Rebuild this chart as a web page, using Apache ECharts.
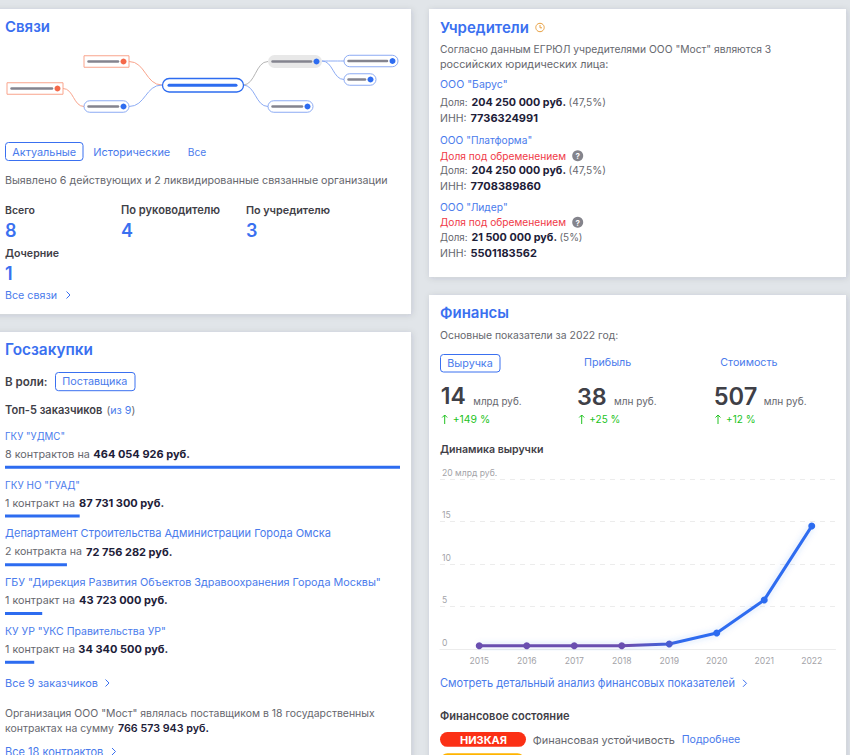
<!DOCTYPE html>
<html><head><meta charset="utf-8">
<style>html,body{margin:0;padding:0;background:#e1e5e9;overflow:hidden}#c{width:850px;height:755px}</style>
<script src="https://cdn.jsdelivr.net/npm/echarts@6/dist/echarts.min.js"></script>
</head><body><div id="c"></div>
<script>
// ---- data ----
const years = ['2015','2016','2017','2018','2019','2020','2021','2022'];
const revenue = [0.42,0.42,0.42,0.42,0.62,1.92,5.8,14.47];
const revenueTicks = [0,5,10,15,20];
const customers = ['ГКУ "УДМС"','ГКУ НО "ГУАД"','Департамент Строительства Администрации Города Омска','ГБУ "Дирекция Развития Объектов Здравоохранения Города Москвы"','КУ УР "УКС Правительства УР"'];
const contractCounts = ['8 контрактов на','1 контракт на','2 контракта на','1 контракт на','1 контракт на'];
const contractAmounts = [464054926,87731300,72756282,43723000,34340500];
const amountLabels = ['464 054 926 руб.','87 731 300 руб.','72 756 282 руб.','43 723 000 руб.','34 340 500 руб.'];

// ---- style ----
const BLUE='#3a70f0', LINK='#4a7bec', DARK='#3f4047', NAVY='#1d2038', GREY='#66676e', FF='Inter, "Noto Sans", sans-serif';
const g=[];
const mctx=document.createElement('canvas').getContext('2d');
const T=(x,y,text,o={})=>{
  const p=Object.assign({text,fontFamily:FF,fontSize:11,fontWeight:400,fill:GREY,verticalAlign:'middle',align:'left'},o);
  if(p.w){mctx.font=p.fontWeight+' '+p.fontSize+'px Inter';p.fontSize=+(p.fontSize*p.w/mctx.measureText(text).width).toFixed(2);delete p.w;}
  g.push({type:'text',x,y,z:1,silent:true,style:p});
};
const card=(x,y,w,h)=>g.push({type:'rect',z:0,silent:true,shape:{x,y,width:w,height:h},style:{fill:'#fff',shadowBlur:6,shadowColor:'rgba(40,50,70,.14)',shadowOffsetX:1,shadowOffsetY:1}});
const title=(x,y,t,w)=>T(x,y,t,{fontSize:15,fontWeight:600,fill:BLUE,w});
const btn=(x,y,w,h,t,tw)=>{g.push({type:'rect',z:1,silent:true,shape:{x:x+.5,y:y+.5,width:w,height:h,r:3},style:{fill:'#fff',stroke:BLUE,lineWidth:1}});T(x+7.3,y+h/2+.5,t,{fill:LINK,w:tw});};
const chev=(x,y)=>g.push({type:'polyline',z:1,silent:true,shape:{points:[[x,y-3.5],[x+3.5,y],[x,y+3.5]]},style:{fill:'none',stroke:BLUE,lineWidth:1}});
const link=(x,y,t,w,cx)=>{T(x,y,t,{fill:LINK,w});chev(cx,y);};

card(-10,9,421,305); card(-10,332,421,440); card(429,9,417,268); card(429,295,417,470);

// ---- Связи: schematic map ----
const RED='#f9a48c', REDDOT='#f4694a', NB='#2d6cf0', LB='#8cabf4', BAR='#84848f';
const curve=(x1,y1,x2,y2,c)=>{const m=(x1+x2)/2;g.push({type:'bezierCurve',z:1,silent:true,shape:{x1,y1,x2,y2,cpx1:m,cpy1:y1,cpx2:m,cpy2:y2},style:{fill:'none',stroke:c,lineWidth:1}});};
curve(129,61.5,162,85,RED); curve(63,88.5,84,106.5,RED); curve(129,106.5,162,85,LB);
curve(243,85,268,61.5,'#b5b5b5'); curve(243,85,268,106.5,LB);
curve(322,61,344,61,LB); curve(322,61,344,79.5,LB);
const node=(x1,x2,cy,kind)=>{
  const h=kind==='grey'?13:11.5, r=kind==='red'?0:h/2;
  g.push({type:'rect',z:1,silent:true,shape:{x:x1,y:cy-h/2,width:x2-x1,height:h,r},style:kind==='grey'?{fill:'#e8e8e8'}:{fill:'#fff',stroke:kind==='red'?RED:LB,lineWidth:1}});
  g.push({type:'line',z:1,silent:true,shape:{x1:x1+4.5,y1:cy,x2:x2-11,y2:cy},style:{stroke:BAR,lineWidth:2.5,lineCap:'round'}});
  g.push({type:'circle',z:1,silent:true,shape:{cx:x2-5.5,cy,r:3},style:{fill:kind==='red'?REDDOT:NB}});
};
node(84,129,61.5,'red'); node(7,63,88.5,'red'); node(84,129,106.5,'blue');
node(268,322,61.5,'grey'); node(344,398,61,'blue'); node(344,376,79.5,'blue'); node(268,313,106.5,'blue');
g.push({type:'rect',z:1,silent:true,shape:{x:162.5,y:78.5,width:81,height:13.5,r:6.7},style:{fill:'#fff',stroke:NB,lineWidth:1.3}});
g.push({type:'line',z:1,silent:true,shape:{x1:169,y1:85.2,x2:236,y2:85.2},style:{stroke:NB,lineWidth:3,lineCap:'round'}});

title(5,26.8,'Связи',45);
btn(5,142,77.5,18,'Актуальные',64);
T(93.3,152,'Исторические',{fill:LINK,w:77}); T(187.7,152,'Все',{fill:LINK,w:18.5});
T(5,180.5,'Выявлено 6 действующих и 2 ликвидированные связанные организации',{w:383});
const stat=(x,y,a,w,b)=>{T(x,y,a,{fontWeight:600,fill:DARK,w});T(x,y+20,b,{fontSize:18,fontWeight:600,fill:BLUE});};
stat(5,210.3,'Всего',30,'8'); stat(121,210.3,'По руководителю',99,'4'); stat(246,210.3,'По учредителю',84,'3'); stat(5,253.3,'Дочерние',54,'1');
link(5,295,'Все связи',52,66.5);

// ---- Госзакупки ----
title(5,349.8,'Госзакупки',88);
T(5,382,'В роли:',{fontWeight:600,fill:DARK,w:42.5}); btn(55,372,79.5,18.2,'Поставщика',65);
T(5,410.3,'Топ-5 заказчиков',{fontWeight:600,fill:DARK,w:97.5});
T(106.5,410.3,'{a|(}{b|из 9}{a|)}',{rich:{a:{fontFamily:FF,fontSize:10.6,fill:GREY,color:GREY},b:{fontFamily:FF,fontSize:10.6,fill:LINK,color:LINK}}});
const rowY=[436,485,533.3,582,631];
const nameW=[60,75,326,376,161], countW=[85,70,77,70,70], amountX=[93.3,79,86,79,78.3];
customers.forEach((c,i)=>{T(5,rowY[i],c,{fill:LINK,w:nameW[i]});T(5,rowY[i]+18.2,contractCounts[i],{w:countW[i]});T(amountX[i],rowY[i]+18.2,amountLabels[i],{fill:NAVY,fontWeight:700});});
link(5,683,'Все 9 заказчиков',93,105.5);
T(5,713.7,'Организация ООО "Мост" являлась поставщиком в 18 государственных',{w:370});
T(5,728.3,'контрактах на сумму',{w:109});T(118,728.3,'766 573 943 руб.',{fill:NAVY,fontWeight:600,w:91});
link(5,751.5,'Все 18 контрактов',98.5,112);

// ---- Учредители ----
title(440,27,'Учредители',89);
g.push({type:'circle',z:1,silent:true,shape:{cx:540,cy:27.5,r:4.2},style:{fill:'none',stroke:'#e8a040',lineWidth:1}});
g.push({type:'polyline',z:1,silent:true,shape:{points:[[540,25],[540,27.8],[542,27.8]]},style:{fill:'none',stroke:'#e8a040',lineWidth:1}});
T(440,49.3,'Согласно данным ЕГРЮЛ учредителями ООО "Мост" являются 3',{w:331.5});
T(440,64,'российских юридических лица:',{w:168.5});
const founder=(yName,yEnc,yShare,yInn,name,amount,amountW,pct,pctX,pctW,inn)=>{
  T(440,yName,name,{fill:LINK,w:name.length*6.15});
  if(yEnc){T(440,yEnc,'Доля под обременением',{fill:'#f03a48',w:126.3});
    g.push({type:'circle',z:1,silent:true,shape:{cx:577.7,cy:yEnc,r:5.5},style:{fill:'#84848c'}});
    T(577.7,yEnc+.3,'?',{fill:'#fff',fontSize:8,fontWeight:700,align:'center'});}
  T(440,yShare,'Доля:',{w:27.5});
  T(471.5,yShare,amount,{fill:NAVY,fontWeight:700,w:amountW});
  T(pctX,yShare,pct,{w:pctW});
  T(440,yInn,'ИНН:',{w:26.5});
  T(470.5,yInn,inn,{fill:NAVY,fontWeight:700});
};
founder(84.3,0,102.3,118.3,'ООО "Барус"','204 250 000 руб.',94.5,'(47,5%)',568.5,37.5,'7736324991');
founder(140.3,155.7,170,186,'ООО "Платформа"','204 250 000 руб.',94.5,'(47,5%)',568.5,37.5,'7708389860');
founder(207,222.3,237.3,253.3,'ООО "Лидер"','21 500 000 руб.',85.5,'(5%)',559.5,23,'5501183562');

// ---- Финансы ----
title(440,312.8,'Финансы',69);
T(440,335.3,'Основные показатели за 2022 год:',{w:178.2});
btn(440,354,59.5,17.5,'Выручка',45.5);
T(584,362.3,'Прибыль',{fill:LINK,w:47.3}); T(720.3,362.3,'Стоимость',{fill:LINK,w:57.3});
const GREEN='#22c322';
const metric=(x,v,vw,ux,u,uw,ax,dx,d,dw)=>{
  T(x,396,v,{fontSize:24,fontWeight:600,fill:DARK,w:vw});T(ux,400.5,u,{w:uw});
  g.push({type:'polyline',z:1,silent:true,shape:{points:[[ax,424],[ax,415]]},style:{fill:'none',stroke:GREEN,lineWidth:1}});
  g.push({type:'polyline',z:1,silent:true,shape:{points:[[ax-2.5,417.5],[ax,415],[ax+2.5,417.5]]},style:{fill:'none',stroke:GREEN,lineWidth:1}});
  T(dx,419.3,d,{fill:GREEN,w:dw});
};
metric(440.7,'14',25,473.3,'млрд руб.',48.3,444.7,452.7,'+149 %',37.5);
metric(577,'38',29.7,614,'млн руб.',42.7,581.7,589.3,'+25 %',31);
metric(713.7,'507',43.6,763.7,'млн руб.',43,718,726,'+12 %',29.5);
T(440,449.3,'Динамика выручки',{fontWeight:600,fill:DARK,w:103.5});
link(440,683.3,'Смотреть детальный анализ финансовых показателей',295.2,743);
T(440,715.7,'Финансовое состояние',{fontWeight:600,fill:DARK,w:129.5});
g.push({type:'rect',z:1,silent:true,shape:{x:440,y:732,width:86,height:14.8,r:7.4},style:{fill:'#fb3015'}});
T(483.5,739.8,'НИЗКАЯ',{fill:'#fff',fontWeight:700,align:'center'});
T(532.7,739.5,'Финансовая устойчивость',{w:142.3}); T(681.7,739.5,'Подробнее',{fill:LINK,w:58.6});
g.push({type:'rect',z:1,silent:true,shape:{x:440,y:753.3,width:85,height:15,r:7.5},style:{fill:'#ffb400'}});

// ---- chart ----
const axisFont={fontFamily:FF,fontSize:8.6,color:'#a3a3a8'};
const purple='#6a4fb0';
const ptColor=['#6a4fb0','#6a4fb0','#6a4fb0','#6a4fb0','#4a5dd0',NB,NB,NB];
const chart=echarts.init(document.getElementById('c'),null,{renderer:'svg',width:850,height:755});
chart.setOption({
  animation:false, backgroundColor:'#e1e5e9',
  graphic:{elements:g},
  grid:[
    {left:5,top:442.9,width:395,height:243.75},
    {left:440,top:479,width:395.5,height:170.3},
    {left:455.5,top:479,width:380,height:170.3}
  ],
  xAxis:[
    {gridIndex:0,type:'value',min:0,max:contractAmounts[0],show:false},
    {gridIndex:1,type:'category',data:years,show:true,axisLine:{show:true,lineStyle:{color:'#ececec'}},axisTick:{show:false},axisLabel:{show:false}},
    {gridIndex:2,type:'category',data:years,axisLine:{show:false},axisTick:{show:false},axisLabel:Object.assign({margin:7},axisFont)}
  ],
  yAxis:[
    {gridIndex:0,type:'category',data:customers,inverse:true,show:false},
    {gridIndex:1,type:'value',min:0,max:20,interval:5,axisLine:{show:false},axisTick:{show:false},
      splitLine:{show:true,lineStyle:{color:'#ececec',type:[5,5],width:1}},
      axisLabel:Object.assign({inside:true,margin:2,verticalAlign:'bottom',padding:[0,0,2,0],formatter:v=>v===revenueTicks[revenueTicks.length-1]?v+' млрд руб.':String(v)},axisFont)},
    {gridIndex:2,type:'value',min:0,max:20,interval:5,show:false}
  ],
  series:[
    {type:'bar',name:'Сумма контрактов',xAxisIndex:0,yAxisIndex:0,data:contractAmounts,barWidth:3,itemStyle:{color:NB},silent:true},
    {type:'line',name:'Выручка',xAxisIndex:2,yAxisIndex:2,z:5,silent:true,
      data:revenue.map((v,i)=>({value:v,itemStyle:{color:ptColor[i]}})),
      symbol:'circle',symbolSize:7,
      lineStyle:{width:3,shadowBlur:6,shadowColor:'rgba(45,108,240,.25)',
        color:{type:'linear',x:0,y:0,x2:1,y2:0,colorStops:[{offset:0,color:purple},{offset:.45,color:purple},{offset:.62,color:NB},{offset:1,color:NB}]}}}
  ]
});
</script></body></html>
